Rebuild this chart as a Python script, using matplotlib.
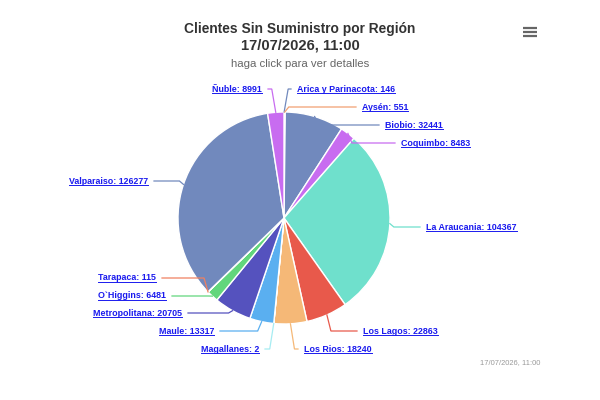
import numpy as np
import matplotlib
matplotlib.use('Agg')
import matplotlib.pyplot as plt

# data (clockwise from top)
regions = ['Arica y Parinacota', 'Aysén', 'Biobio', 'Coquimbo', 'La Araucania',
           'Los Lagos', 'Los Rios', 'Magallanes', 'Maule', 'Metropolitana',
           "O`Higgins", 'Tarapaca', 'Valparaiso', 'Ñuble']
clients = [146, 551, 32441, 8483, 104367, 22863, 18240, 2, 13317, 20705,
           6481, 115, 126277, 8991]
colors = ['#7189bd', '#f2a072', '#7189bd', '#c86cf0', '#6fe0cc', '#e8594b',
          '#f5b877', '#a6ecf2', '#5aaff0', '#5552be', '#62d67c', '#f08060',
          '#7189bd', '#c86cf0']

# label layout (pixels from top-left): y of label, x of edge nearest the pie
label_y = [89, 107, 125, 143, 227, 331, 349, 349, 331, 313, 296, 278, 181, 89]
label_x = [297, 362, 385, 401, 426, 363, 304, 259, 214, 182, 166, 156, 148, 262]

W, H = 600, 400
cx, cy, r = 284, H - 218, 106

plt.rcParams['font.family'] = ['Liberation Sans', 'DejaVu Sans']
fig = plt.figure(figsize=(6, 4), dpi=100)
ax = fig.add_axes([0, 0, 1, 1])

wedges, _ = ax.pie(clients, colors=colors, startangle=90, counterclock=False,
                   center=(cx, cy), radius=r,
                   wedgeprops=dict(edgecolor='white', linewidth=1))
# pie() resets the limits, so set them afterwards
ax.set_xlim(0, W)
ax.set_ylim(0, H)
ax.set_aspect('equal')
ax.axis('off')

link = '#1a1aee'
texts = []
for w, name, val, col, ly, lx in zip(wedges, regions, clients, colors, label_y, label_x):
    mid = np.deg2rad((w.theta1 + w.theta2) / 2)
    ex, ey = cx + r * np.cos(mid), cy + r * np.sin(mid)
    right = lx > cx
    ty = H - ly
    sgn = 1 if right else -1
    bx = ex + sgn * 4
    ax.plot([ex, bx, lx - sgn * 6], [ey, ty, ty], color=col, lw=0.9,
            solid_joinstyle='miter', zorder=1)
    t = ax.text(lx, ty, f'{name}: {val}', fontsize=6.4, fontweight='bold',
                color=link, ha='left' if right else 'right', va='center')
    texts.append(t)

# titles
fig.text(0.5, 1 - 29 / H, 'Clientes Sin Suministro por Región', ha='center', va='center',
         fontsize=9.9, fontweight='bold', color='#333333')
fig.text(0.5, 1 - 46 / H, '17/07/2026, 11:00', ha='center', va='center',
         fontsize=10.6, fontweight='bold', color='#333333')
fig.text(0.5, 1 - 64 / H, 'haga click para ver detalles', ha='center', va='center',
         fontsize=8.2, color='#666666')
fig.text(540 / W, 1 - 363 / H, '17/07/2026, 11:00', ha='right', va='center',
         fontsize=5.4, color='#999999')

# menu icon
for yy in (28, 32, 36):
    ax.plot([523, 537], [H - yy, H - yy], color='#666666', lw=1.6, solid_capstyle='butt')

# underline the labels
fig.canvas.draw()
renderer = fig.canvas.get_renderer()
inv = ax.transData.inverted()
for t in texts:
    bb = t.get_window_extent(renderer)
    (x0, y0), (x1, y1) = inv.transform([(bb.x0, bb.y0), (bb.x1, bb.y1)])
    ax.plot([x0, x1], [y0 + 1.0, y0 + 1.0], color=link, lw=0.7)

plt.savefig('out.png', dpi=100)
plt.close()
